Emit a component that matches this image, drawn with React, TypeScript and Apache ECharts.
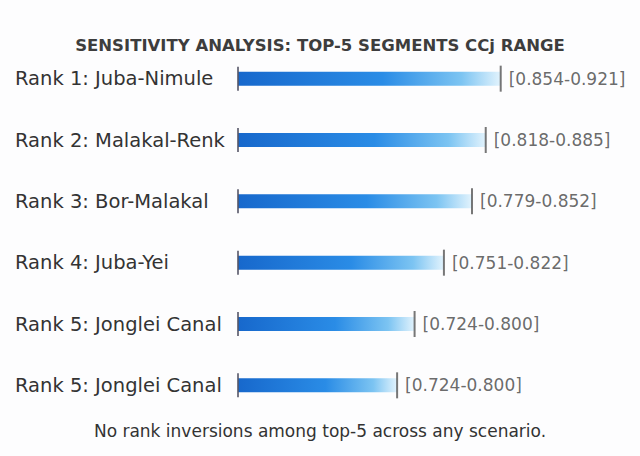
import React, { useEffect, useRef } from "react";
import * as echarts from "echarts";

const categories = [
  "Rank 1: Juba-Nimule",
  "Rank 2: Malakal-Renk",
  "Rank 3: Bor-Malakal",
  "Rank 4: Juba-Yei",
  "Rank 5: Jonglei Canal",
  "Rank 5: Jonglei Canal",
];
const rangeLow = [0.854, 0.818, 0.779, 0.751, 0.724, 0.724];
const rangeHigh = [0.921, 0.885, 0.852, 0.822, 0.8, 0.8];
// displayed bar extent (axis from 0.5 to 1.0)
const barScore = [0.921, 0.897, 0.875, 0.83, 0.783, 0.755];
const axisMin = 0.5;
const axisMax = 1.0;

const titleText = "SENSITIVITY ANALYSIS: TOP-5 SEGMENTS CCj RANGE";
const footerText = "No rank inversions among top-5 across any scenario.";

const FONT = "'DejaVu Sans', sans-serif";

export default function App() {
  const ref = useRef<HTMLDivElement>(null);
  useEffect(() => {
    if (!ref.current) return;
    const chart = echarts.init(ref.current, undefined, { renderer: "svg" });
    const rangeLabels = rangeLow.map(
      (lo, i) => `[${lo.toFixed(3)}-${rangeHigh[i].toFixed(3)}]`
    );
    chart.setOption({
      animation: false,
      backgroundColor: "#fdfdfe",
      title: {
        text: titleText,
        left: "center",
        top: 32,
        textStyle: {
          fontFamily: FONT,
          fontSize: 16.5,
          fontWeight: "bold",
          color: "#3d3d3d",
        },
      },
      grid: { left: 238, right: 90, top: 48, bottom: 40 },
      xAxis: {
        type: "value",
        min: axisMin,
        max: axisMax,
        show: false,
      },
      yAxis: {
        type: "category",
        inverse: true,
        data: categories,
        axisLine: { show: false },
        axisTick: { show: false },
        axisLabel: {
          align: "left",
          margin: 223,
          fontFamily: FONT,
          fontSize: 19.5,
          color: "#333",
        },
      },
      series: [
        {
          type: "bar",
          data: barScore,
          barWidth: 14,
          itemStyle: {
            color: new echarts.graphic.LinearGradient(0, 0, 1, 0, [
              { offset: 0, color: "#1768cc" },
              { offset: 0.55, color: "#2a8ce6" },
              { offset: 0.85, color: "#7cc4f2" },
              { offset: 1, color: "#e2f3fd" },
            ]),
          },
          z: 2,
        },
        {
          type: "scatter",
          data: barScore.map(() => axisMin),
          symbol: "rect",
          symbolSize: [2, 24],
          itemStyle: { color: "#556" },
          z: 3,
        },
        {
          type: "scatter",
          data: barScore,
          symbol: "rect",
          symbolSize: [2, 26],
          itemStyle: { color: "#555" },
          z: 3,
          label: {
            show: true,
            position: "right",
            distance: 7,
            fontFamily: FONT,
            fontSize: 17,
            color: "#444",
            formatter: (p: any) => rangeLabels[p.dataIndex],
          },
        },
      ],
      graphic: [
        {
          type: "text",
          left: "center",
          top: 422,
          style: {
            text: footerText,
            fontFamily: FONT,
            fontSize: 17,
            fill: "#333",
          },
        },
      ],
    });
    return () => chart.dispose();
  }, []);
  return (
    <div
      ref={ref}
      style={{ position: "fixed", left: 0, top: 0, width: 640, height: 456 }}
    />
  );
}
